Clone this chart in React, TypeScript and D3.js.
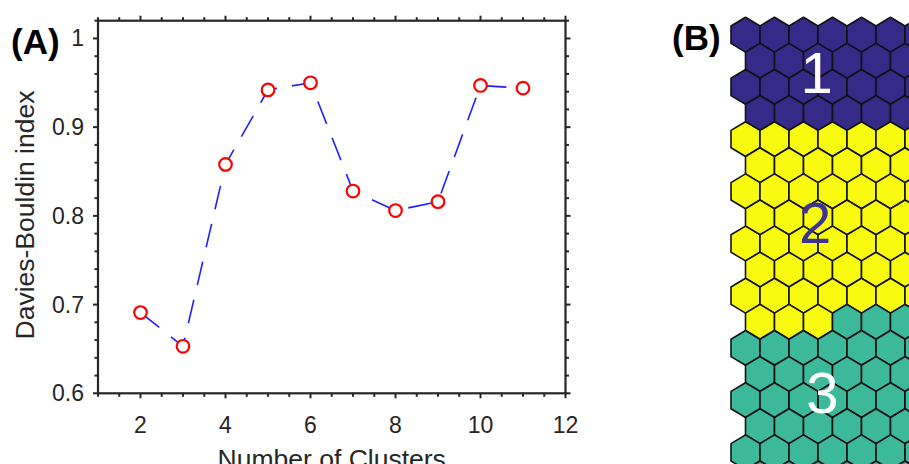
import React from 'react';
import * as d3 from 'd3';

// panel A data: Davies-Bouldin index per number of clusters
const clusters = [2, 3, 4, 5, 6, 7, 8, 9, 10, 11];
const dbIndex = [0.691, 0.653, 0.858, 0.942, 0.95, 0.828, 0.806, 0.816, 0.947, 0.944];
const xTickLabels = [2, 4, 6, 8, 10, 12];
const yTickLabels = [0.6, 0.7, 0.8, 0.9, 1];

// panel B: cluster id of every hex cell, one string per row
const hexRows = [
  '1111111', '1111111', '1111111', '1111111',
  '2222222', '2222222', '2222222', '2222222', '2222222', '2222222', '2222222',
  '2223333',
  '3333333', '3333333', '3333333', '3333333', '3333333', '3333333',
];
const clusterColors: Record<string, string> = { '1': '#352a87', '2': '#f8fa0f', '3': '#3cb89b' };
const clusterLabels = ['1', '2', '3'];

const W = 909;
const H = 464;
const FONT = '"Liberation Sans", Arial, Helvetica, sans-serif';
const AX = '#262626';

export default function App() {
  const x = d3.scaleLinear().domain([1, 12]).range([98, 565.5]);
  const y = d3.scaleLinear().domain([0.6, 1.02]).range([393.3, 20.7]);
  const [x0, x1] = x.range();
  const [y0, y1] = y.range();

  const pts = clusters.map((c, i) => [c, dbIndex[i]] as [number, number]);
  const line = d3.line<[number, number]>().x(d => x(d[0])).y(d => y(d[1]));

  const xMinor = d3.range(1, 12.01, 0.5);
  const yMinor = d3.range(0.6, 1.021, 0.02);
  const isMajorX = (v: number) => Math.abs(v % 2) < 1e-6;
  const isMajorY = (v: number) => Math.abs(Math.round(v * 10) - v * 10) < 1e-6;

  // hex grid scales (pointy-top hexes, odd rows shifted right by half a cell)
  const hw = 14.5;
  const R = 17.4;
  const colX = d3.scaleLinear().domain([0, 1]).range([745.5, 774.5]);
  const rowY = d3.scaleLinear().domain([0, 1]).range([34.7, 60.8]);
  const hexPath = (cx: number, cy: number) =>
    `M${cx},${cy - R}L${cx + hw},${cy - R / 2}L${cx + hw},${cy + R / 2}L${cx},${cy + R}L${cx - hw},${cy + R / 2}L${cx - hw},${cy - R / 2}Z`;

  const labelPos = [
    { col: 2.45, row: 1.45, color: '#ffffff' },
    { col: 2.4, row: 7.2, color: '#3d3492' },
    { col: 2.65, row: 13.7, color: '#ffffff' },
  ];

  return (
    <svg width={W} height={H} style={{ position: 'absolute', left: 0, top: 0, background: '#fff' }}
      fontFamily={FONT}>
      {/* ---------- panel A ---------- */}
      <text x={11} y={54} fontSize={35} fontWeight="bold" fill="#000">(A)</text>

      {/* ticks */}
      {xMinor.map(v => {
        const len = isMajorX(v) ? 5 : 3.5;
        return (
          <g key={'xt' + v} stroke={AX} strokeWidth={2}>
            <line x1={x(v)} x2={x(v)} y1={y0} y2={y0 + len} />
            <line x1={x(v)} x2={x(v)} y1={y1} y2={y1 - len} />
          </g>
        );
      })}
      {yMinor.map(v => {
        const len = isMajorY(v) ? 5 : 3.5;
        return (
          <g key={'yt' + v} stroke={AX} strokeWidth={2}>
            <line x1={x0} x2={x0 - len} y1={y(v)} y2={y(v)} />
            <line x1={x1} x2={x1 + len} y1={y(v)} y2={y(v)} />
          </g>
        );
      })}
      <rect x={x0} y={y1} width={x1 - x0} height={y0 - y1} fill="none" stroke={AX} strokeWidth={2.2} />

      {xTickLabels.map(v => (
        <text key={'xl' + v} x={x(v)} y={433} fontSize={23} fill={AX} textAnchor="middle">{v}</text>
      ))}
      {yTickLabels.map(v => (
        <text key={'yl' + v} x={84} y={y(v) + 8} fontSize={23} fill={AX} textAnchor="end">{v}</text>
      ))}
      <text transform={`translate(34,${(y0 + y1) / 2 + 8}) rotate(-90)`} fontSize={26.5} fill={AX}
        textAnchor="middle">Davies-Bouldin index</text>
      <text x={(x0 + x1) / 2} y={468} fontSize={26.5} fill={AX} textAnchor="middle">Number of Clusters</text>

      <path d={line(pts) || ''} fill="none" stroke="#2020ff" strokeWidth={1.6} strokeDasharray="24,15" />
      {pts.map(p => (
        <circle key={'c' + p[0]} cx={x(p[0])} cy={y(p[1])} r={6.3} fill="#fff" stroke="#ff0000" strokeWidth={2.2} />
      ))}

      {/* ---------- panel B ---------- */}
      <text x={672} y={50} fontSize={35} fontWeight="bold" fill="#000">(B)</text>
      {hexRows.map((row, r) =>
        row.split('').map((c, k) => {
          const cx = colX(k) + (r % 2 === 1 ? hw : 0);
          return (
            <path key={`h${r}-${k}`} d={hexPath(cx, rowY(r))} fill={clusterColors[c]}
              stroke="#111" strokeWidth={1.6} strokeLinejoin="round" />
          );
        })
      )}
      {clusterLabels.map((l, i) => (
        <text key={'lab' + l} x={colX(labelPos[i].col)} y={rowY(labelPos[i].row)} fontSize={58}
          fill={labelPos[i].color} textAnchor="middle" dominantBaseline="central">{l}</text>
      ))}
    </svg>
  );
}
